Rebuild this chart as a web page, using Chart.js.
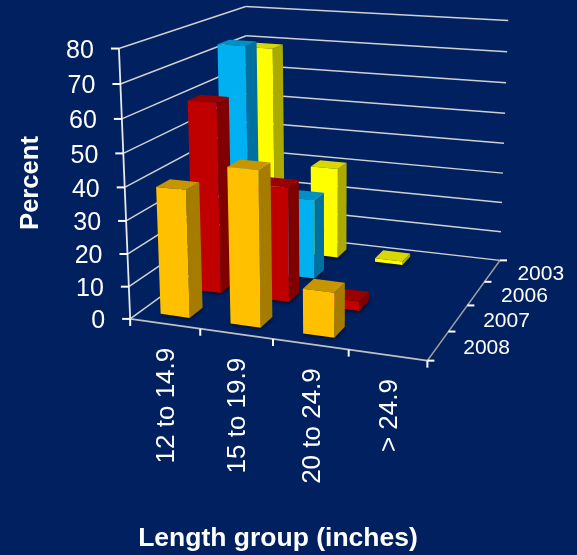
<!DOCTYPE html>
<html><head><meta charset="utf-8">
<style>html,body{margin:0;padding:0;background:#00205F;overflow:hidden}canvas{display:block}</style>
<script src="https://cdn.jsdelivr.net/npm/chart.js@4"></script>
</head><body><canvas id="c" width="577" height="555"></canvas>
<script>
const categories = ['12 to 14.9','15 to 19.9','20 to 24.9','> 24.9'];
const years = ['2008','2007','2006','2003'];
const values2003 = [69, 30.5, 1.2, 0];
const values2006 = [73.5, 26, 0, 0];
const values2007 = [60, 36, 3, 0];
const values2008 = [39, 47, 13.5, 0];
const yTicks = [0,10,20,30,40,50,60,70,80];
const faces = {
  '2008':['#FFC000','#C69500','#A67C00'],
  '2007':['#C00000','#990000','#800000'],
  '2006':['#00B0F0','#0090C4','#0070A0'],
  '2003':['#FFFF00','#D8D800','#AAAA00']
};
// Camera calibration: where the box corners (u,d,v) land on the page.
const boxCorners = [
  [0,0,0,130,320],[1,0,0,427,360],[1,1,0,500,261],[0,1,0,250,231],
  [0,0,1,119.5,48],[0,1,1,245,7],[1,1,1,508.5,20.5]
];
function solveCamera(pts){
  const n=11, A=[], B=[];
  pts.forEach(([u,d,v,x,y])=>{
    A.push([u,d,v,1,0,0,0,0,-x*u,-x*d,-x*v]);B.push(x);
    A.push([0,0,0,0,u,d,v,1,-y*u,-y*d,-y*v]);B.push(y);
  });
  const M=[];
  for(let i=0;i<n;i++){M.push([]);for(let j=0;j<=n;j++){let s=0;
    for(let k=0;k<A.length;k++) s+=A[k][i]*(j<n?A[k][j]:B[k]);M[i].push(s);}}
  for(let i=0;i<n;i++){let p=i;for(let r=i+1;r<n;r++)if(Math.abs(M[r][i])>Math.abs(M[p][i]))p=r;
    [M[i],M[p]]=[M[p],M[i]];
    for(let r=0;r<n;r++){if(r===i)continue;const f=M[r][i]/M[i][i];for(let c=i;c<=n;c++)M[r][c]-=f*M[i][c];}}
  return M.map((r,i)=>r[n]/r[i]);
}
const cam = solveCamera(boxCorners);
function proj(u,d,v){
  const w=cam[8]*u+cam[9]*d+cam[10]*v+1;
  return [(cam[0]*u+cam[1]*d+cam[2]*v+cam[3])/w,(cam[4]*u+cam[5]*d+cam[6]*v+cam[7])/w];
}
const BAR_U=0.0525, BAR_D=0.05;
function poly(ctx,pts,fill){ctx.beginPath();pts.forEach((p,i)=>i?ctx.lineTo(p[0],p[1]):ctx.moveTo(p[0],p[1]));ctx.closePath();ctx.fillStyle=fill;ctx.fill();}
function seg(ctx,a,b,color,w){ctx.beginPath();ctx.moveTo(a[0],a[1]);ctx.lineTo(b[0],b[1]);ctx.strokeStyle=color;ctx.lineWidth=w;ctx.stroke();}
const scene = {
  id:'scene',
  beforeDatasetsDraw(chart){
    const ctx=chart.ctx,{x,y,z}=chart.scales;
    const U=i=>(x.getPixelForValue(i)-x.left)/x.width;
    const D=i=>(z.getPixelForValue(i)-z.left)/z.width;
    const V=val=>(y.bottom-y.getPixelForValue(val))/y.height;
    ctx.save();
    ctx.fillStyle='#00205F';ctx.fillRect(0,0,chart.width,chart.height);
    ctx.lineCap='butt';
    // walls
    yTicks.forEach(t=>{
      const v=V(t);
      seg(ctx,proj(0,0,v),proj(0,1,v),'#D0D0D0',1.5);
      seg(ctx,proj(0,1,v),proj(1,1,v),'#D0D0D0',1.5);
    });
    // axes
    seg(ctx,proj(0,0,0),proj(0,0,1),'#E8E8E8',1.8);
    seg(ctx,proj(0,0,0),proj(1,0,0),'#C0C0C0',1.6);
    seg(ctx,proj(1,0,0),proj(1,1,0),'#A0A0A0',1.6);
    // ticks and labels
    ctx.fillStyle='#fff';
    ctx.font='25px "Liberation Sans"';ctx.textAlign='right';ctx.textBaseline='middle';
    yTicks.forEach(t=>{
      const p=proj(0,0,V(t));
      seg(ctx,[p[0]-8,p[1]],p,'#fff',2);
      ctx.fillStyle='#fff';ctx.fillText(String(t),p[0]-25,p[1]+2.5);
    });
    for(let i=0;i<=categories.length;i++){
      const p=proj(i/categories.length,0,0);
      seg(ctx,p,[p[0],p[1]+7],'#fff',2);
    }
    ctx.font='26px "Liberation Sans"';
    categories.forEach((c,i)=>{
      const p=proj(U(i),0,0);
      ctx.save();ctx.translate(p[0]+2,p[1]+24);ctx.rotate(-Math.PI/2);
      ctx.textAlign='right';ctx.textBaseline='middle';ctx.fillStyle='#fff';
      ctx.fillText(c,0,0);ctx.restore();
    });
    for(let i=0;i<=years.length;i++){
      const p=proj(1,i/years.length,0);
      seg(ctx,p,[p[0]+7,p[1]],'#fff',2);
    }
    ctx.font='21px "Liberation Sans"';ctx.textAlign='left';
    years.forEach((yr,i)=>{
      const p=proj(1,D(i),0);
      ctx.fillStyle='#fff';ctx.fillText(yr,p[0]+25,p[1]+3);
    });
    // axis titles
    ctx.font='bold 25.6px "Liberation Sans"';ctx.textAlign='center';ctx.fillStyle='#fff';
    ctx.save();ctx.translate(31,183);ctx.rotate(-Math.PI/2);ctx.fillText('Percent',0,0);ctx.restore();
    ctx.font='bold 26.5px "Liberation Sans"';ctx.fillText('Length group (inches)',278,539);
    // bars: back row first, left to right
    const order=chart.data.datasets.map((ds,i)=>i).sort((a,b)=>years.indexOf(chart.data.datasets[b].label)-years.indexOf(chart.data.datasets[a].label));
    order.forEach(k=>{
      const ds=chart.data.datasets[k];
      const row=years.indexOf(ds.label),d=D(row),c=faces[ds.label];
      ds.data.forEach((val,i)=>{
        if(!val) return;
        const u=U(i),v=V(val);
        const u0=u-BAR_U,u1=u+BAR_U,d0=d-BAR_D,d1=d+BAR_D;
        ctx.save();ctx.shadowColor='#000';ctx.shadowBlur=5;
        poly(ctx,[proj(u0,d0,0),proj(u1,d0,0),proj(u1,d1,0),proj(u0,d1,0)],'#000');ctx.restore();
        poly(ctx,[proj(u1,d0,0),proj(u1,d1,0),proj(u1,d1,v),proj(u1,d0,v)],c[2]);
        poly(ctx,[proj(u0,d0,v),proj(u1,d0,v),proj(u1,d1,v),proj(u0,d1,v)],c[1]);
        poly(ctx,[proj(u0,d0,0),proj(u1,d0,0),proj(u1,d0,v),proj(u0,d0,v)],c[0]);
      });
    });
    ctx.restore();
    return false;
  }
};
new Chart(document.getElementById('c'),{
  type:'bar',
  data:{labels:categories,datasets:[
    {label:'2003',data:values2003,backgroundColor:faces['2003'][0]},
    {label:'2006',data:values2006,backgroundColor:faces['2006'][0]},
    {label:'2007',data:values2007,backgroundColor:faces['2007'][0]},
    {label:'2008',data:values2008,backgroundColor:faces['2008'][0]}
  ]},
  options:{
    responsive:false,animation:false,
    layout:{padding:0},
    plugins:{legend:{display:false},tooltip:{enabled:false},title:{display:false}},
    scales:{
      x:{type:'category',offset:true,display:false},
      y:{type:'linear',min:0,max:80,display:false},
      z:{type:'category',axis:'x',labels:years,offset:true,display:false}
    }
  },
  plugins:[scene]
});
</script></body></html>
